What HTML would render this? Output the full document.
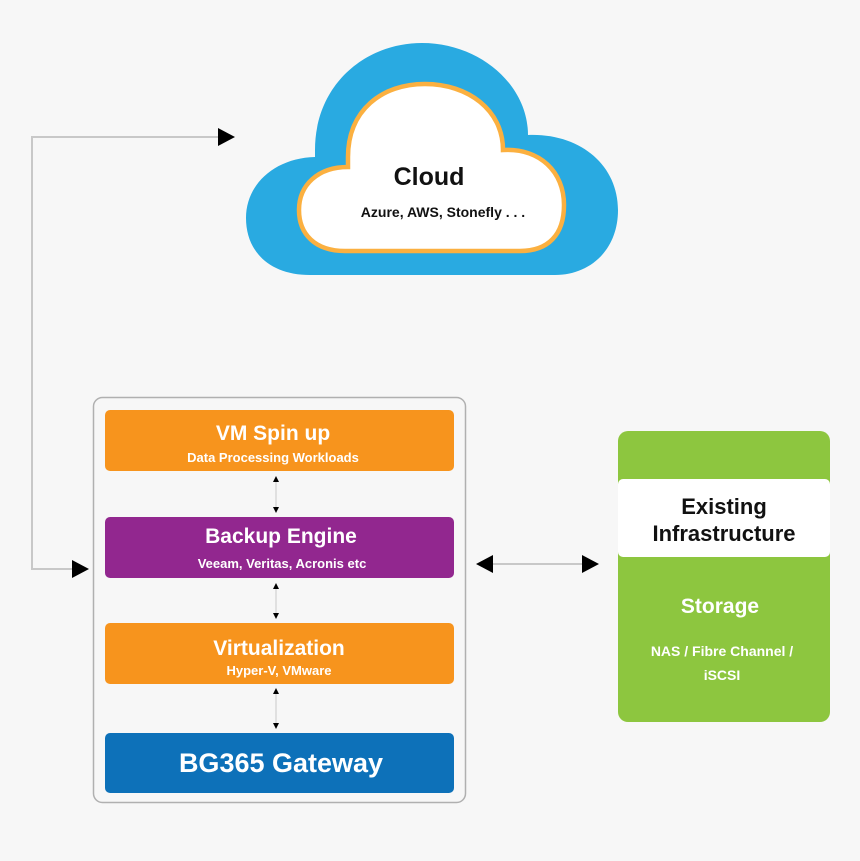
<!DOCTYPE html>
<html><head><style>
html,body{margin:0;padding:0;background:#f7f7f7;}
svg{display:block;}
text{font-family:"Liberation Sans",sans-serif;font-weight:bold;}
</style></head><body>
<svg width="860" height="861" viewBox="0 0 860 861" xmlns="http://www.w3.org/2000/svg">
<rect width="860" height="861" fill="#f7f7f7"/>
<!-- cloud outer -->
<path d="M 310 275 C 270 275 246 252 246 218 C 246 184 275 158 315 157 L 315 150 C 315 85 365 43 422 43 C 480 43 528 85 528 135 C 580 133 618 165 618 210 C 618 250 590 275 555 275 Z" fill="#29aae1"/>
<!-- inner cloud -->
<path d="M 345 251 C 315 251 299 234 299 210 C 299 185 318 167 348 167 L 348 157 C 348 110 382 84 425 84 C 468 84 503 110 503 150 C 540 148 564 172 564 205 C 564 235 548 251 520 251 Z" fill="#fff" stroke="#fbb040" stroke-width="4.5"/>
<text x="429" y="185" font-size="25" text-anchor="middle" fill="#111">Cloud</text>
<text x="443" y="217" font-size="14" text-anchor="middle" fill="#111">Azure, AWS, Stonefly . . .</text>

<!-- left connector -->
<polyline points="218,137 32,137 32,569 72,569" fill="none" stroke="#c8c8c8" stroke-width="2"/>
<polygon points="218,128 235,137 218,146" fill="#000"/>
<polygon points="72,560 89,569 72,578" fill="#000"/>

<!-- stack box -->
<rect x="93.5" y="397.5" width="372" height="405" rx="9" fill="#f7f7f7" stroke="#b0b0b0" stroke-width="1.5"/>
<rect x="105" y="410" width="349" height="61" rx="5" fill="#f7941d"/>
<rect x="105" y="517" width="349" height="61" rx="5" fill="#92278f"/>
<rect x="105" y="623" width="349" height="61" rx="5" fill="#f7941d"/>
<rect x="105" y="733" width="349" height="60" rx="5" fill="#0d71b9"/>
<text x="273" y="440" font-size="21" text-anchor="middle" fill="#fff">VM Spin up</text>
<text x="273" y="462" font-size="13" text-anchor="middle" fill="#fff">Data Processing Workloads</text>
<text x="281" y="543" font-size="21" text-anchor="middle" fill="#fff">Backup Engine</text>
<text x="282" y="568" font-size="13" text-anchor="middle" fill="#fff">Veeam, Veritas, Acronis etc</text>
<text x="279" y="655" font-size="21" text-anchor="middle" fill="#fff">Virtualization</text>
<text x="279" y="675" font-size="13" text-anchor="middle" fill="#fff">Hyper-V, VMware</text>
<text x="281" y="772" font-size="27" text-anchor="middle" fill="#fff">BG365 Gateway</text>
<g stroke="#c8c8c8" stroke-width="1">
<line x1="276" y1="478" x2="276" y2="511"/>
<line x1="276" y1="585" x2="276" y2="617"/>
<line x1="276" y1="690" x2="276" y2="727"/>
</g>
<g fill="#000">
<polygon points="273,482 276,476 279,482"/><polygon points="273,507 276,513 279,507"/>
<polygon points="273,589 276,583 279,589"/><polygon points="273,613 276,619 279,613"/>
<polygon points="273,694 276,688 279,694"/><polygon points="273,723 276,729 279,723"/>
</g>

<!-- middle arrow -->
<line x1="493" y1="564" x2="582" y2="564" stroke="#c8c8c8" stroke-width="2"/>
<polygon points="493,555 476,564 493,573" fill="#000"/>
<polygon points="582,555 599,564 582,573" fill="#000"/>

<!-- green box -->
<rect x="618" y="431" width="212" height="291" rx="10" fill="#8dc63f"/>
<rect x="618" y="479" width="212" height="78" rx="5" fill="#fff"/>
<text x="724" y="514" font-size="22" text-anchor="middle" fill="#111">Existing</text>
<text x="724" y="541" font-size="22" text-anchor="middle" fill="#111">Infrastructure</text>
<text x="720" y="613" font-size="21" text-anchor="middle" fill="#fff">Storage</text>
<text x="722" y="656" font-size="14" text-anchor="middle" fill="#fff">NAS / Fibre Channel /</text>
<text x="722" y="680" font-size="14" text-anchor="middle" fill="#fff">iSCSI</text>
</svg>
</body></html>
